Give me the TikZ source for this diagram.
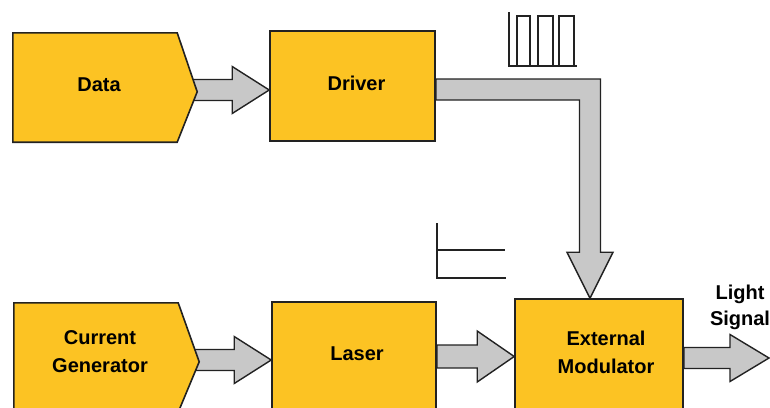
\documentclass[tikz,border=0pt]{standalone}
\usepackage{fontspec}
\setmainfont{Liberation Sans}
\usetikzlibrary{calc,backgrounds}
\definecolor{blockfill}{HTML}{FCC323}
\definecolor{arrowfill}{HTML}{C8C8C8}
\definecolor{edgeline}{HTML}{222222}

% horizontal block arrow: #1 back end, #2 tip, #3 shaft half width,
% #4 head half width, #5 head length (all in pt)
\newcommand\fatarrow[5]{%
  \draw[fat] let \p1=(#1), \p2=(#2) in
    (\x1,\y2+#3pt) -- (\x2-#5pt,\y2+#3pt) -- (\x2-#5pt,\y2+#4pt) -- (\p2)
    -- (\x2-#5pt,\y2-#4pt) -- (\x2-#5pt,\y2-#3pt) -- (\x1,\y2-#3pt) -- cycle;}

\begin{document}
\begin{tikzpicture}[x=1pt,y=-1pt,
  caption/.style={font=\bfseries\fontsize{20}{27.5}\selectfont, align=center, inner sep=0pt},
  block/.style={draw=edgeline, fill=blockfill, line width=1.6pt,
    minimum height=110pt, inner sep=0pt},
  pentbody/.style={minimum width=164pt, minimum height=109pt, inner sep=0pt},
  pentagon/.style={draw=edgeline, fill=blockfill, line width=1.6pt, line join=miter},
  fat/.style={draw=edgeline, fill=arrowfill, line width=1.4pt, line join=miter},
  trace/.style={draw=edgeline, line width=1.5pt}]
\useasboundingbox (0,0) rectangle (770,407);

% blocks
\node[pentbody] (data) at (95,87.5) {};
\node[block, minimum width=165pt] (driver) at (352.5,86) {};
\node[pentbody] (gen) at (96,357.5) {};
\node[block, minimum width=164pt] (laser) at (354,357) {};
\node[block, minimum width=168pt] (modulator) at (599,354) {};

% block captions
\node[caption] (data-text) at ($(data)+(4,-2.5)$) {Data};
\node[caption] (driver-text) at ($(driver)+(4,-3)$) {Driver};
\node[caption] (gen-text) at ($(gen)+(4,-6)$) {Current\\Generator};
\node[caption] (laser-text) at ($(laser)+(3,-3.5)$) {Laser};
\node[caption] (modulator-text) at ($(modulator)+(7,-1.5)$) {External\\Modulator};
\node[font=\bfseries\fontsize{20}{26}\selectfont, align=center] (lightlabel) at (740,307) {Light\\Signal};

\coordinate (lightout) at (769,358);
\coordinate (modtip) at ($(modulator.north)+(-9,0)$);

\begin{scope}[on background layer]
  % block arrows between the stages
  \fatarrow{data.east}{$(driver.west)+(0,4)$}{10.5}{23.5}{37}
  \fatarrow{gen.east}{$(laser.west)+(0,3)$}{10.5}{23.5}{37}
  \fatarrow{laser.east}{$(modulator.west)+(0,2.5)$}{11.5}{25.5}{37}
  \fatarrow{modulator.east}{lightout}{10.5}{23.5}{39}
  % driver output bent down into the modulator
  \draw[fat] let \p1=(driver.east), \p2=(modtip) in
    (\x1,\y1+7pt) -- (\x2+10.5pt,\y1+7pt) -- (\x2+10.5pt,\y2+46pt)
    -- (\x2+23pt,\y2+46pt) -- (\p2) -- (\x2-23pt,\y2+46pt)
    -- (\x2-10.5pt,\y2+46pt) -- (\x2-10.5pt,\y1-14pt) -- (\x1,\y1-14pt) -- cycle;
  % pointed source blocks
  \draw[pentagon] (data.north west) -- (data.north east)
    -- ($(data.north east)+(20,59)$) -- (data.south east)
    -- (data.south west) -- cycle;
  \draw[pentagon] (gen.north west) -- (gen.north east)
    -- ($(gen.north east)+(21,59)$) -- (gen.south east)
    -- (gen.south west) -- cycle;
\end{scope}

% pulse train above the driver output
\draw[trace] (509,12) -- (509,66) -- (577,66);
\draw[trace] (517,66) -- (517,16) -- (530,16) -- (530,66);
\draw[trace] (538,66) -- (538,16) -- (553,16) -- (553,66);
\draw[trace] (559,66) -- (559,16) -- (574,16) -- (574,66);

% step level above the laser output
\draw[trace] (437,223) -- (437,278) -- (506,278);
\draw[trace] (437,250) -- (505,250);
\end{tikzpicture}
\end{document}
